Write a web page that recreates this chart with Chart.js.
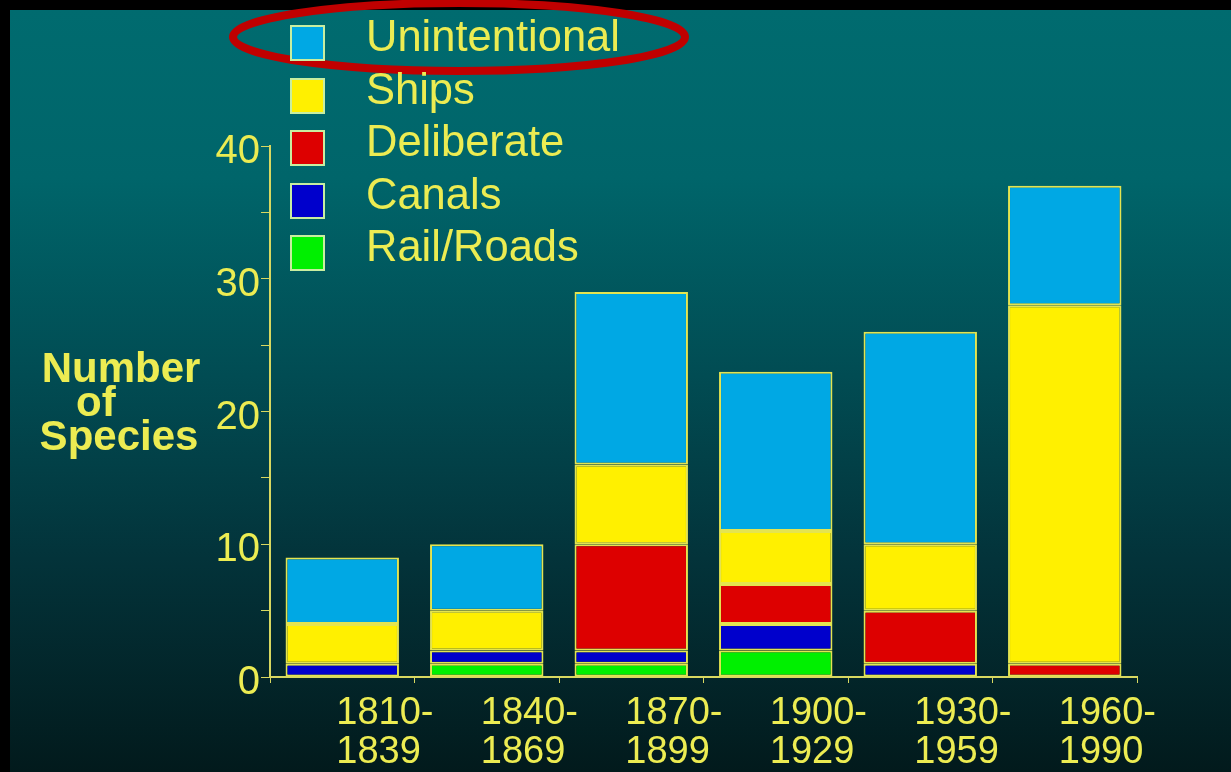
<!DOCTYPE html>
<html>
<head>
<meta charset="utf-8">
<script src="https://cdn.jsdelivr.net/npm/chart.js@4.4.1/dist/chart.umd.min.js"></script>
<style>
  html, body { margin: 0; padding: 0; background: #000; }
  #wrap { position: relative; width: 1231px; height: 772px; overflow: hidden; background: #000; }
  #bg {
    position: absolute; left: 10px; top: 10px; right: 0; bottom: 0;
    background: linear-gradient(to bottom, #006b6f 0%, #00656a 22%, #014c53 48%, #03333a 72%, #021a1c 100%);
  }
  #chart { position: absolute; left: 0; top: 0; }
  #legend { position: absolute; left: 290px; top: 25px; }
  .item { position: absolute; left: 0; height: 36px; width: 400px; }
  .box { position: absolute; left: 0; top: 0; width: 31px; height: 32px; border: 2px solid #c8eea0; }
  .txt { position: absolute; left: 76px; top: -13px; font: 43.5px "Liberation Sans", Arial, sans-serif; color: #ecec52; white-space: nowrap; }
</style>
</head>
<body>
<div id="wrap">
  <div id="bg"></div>
  <canvas id="chart" width="1231" height="772"></canvas>
  <div id="legend"></div>
</div>
<script>
const periods = [ ['1810-', '1839'], ['1840-', '1869'], ['1870-', '1899'], ['1900-', '1929'], ['1930-', '1959'], ['1960-', '1990'] ]
const railRoads = [ 0, 1, 1, 2, 0, 0 ]
const canals = [ 1, 1, 1, 2, 1, 0 ]
const deliberate = [ 0, 0, 8, 3, 4, 1 ]
const ships = [ 3, 3, 6, 4, 5, 27 ]
const unintentional = [ 5, 5, 13, 12, 16, 9 ]

const yTitle = [ 'Number', 'of', 'Species' ]
const yellow = '#ecec52'
const font = '"Liberation Sans", Arial, sans-serif'

// bottom of stack first
const series = [
  { label: 'Rail/Roads', data: railRoads, color: '#00f000' },
  { label: 'Canals', data: canals, color: '#0000cc' },
  { label: 'Deliberate', data: deliberate, color: '#dd0000' },
  { label: 'Ships', data: ships, color: '#fff000' },
  { label: 'Unintentional', data: unintentional, color: '#00a8e4' },
]

function buildLegend() {
  const legend = document.getElementById('legend')
  const items = series.slice().reverse()
  items.forEach((s, i) => {
    const row = document.createElement('div')
    row.className = 'item'
    row.style.top = (i * 52.5) + 'px'
    const box = document.createElement('div')
    box.className = 'box'
    box.style.background = s.color
    const txt = document.createElement('div')
    txt.className = 'txt'
    txt.textContent = s.label
    row.appendChild(box)
    row.appendChild(txt)
    legend.appendChild(row)
  })
}

const decorations = {
  id: 'decorations',
  afterDraw(chart) {
    const ctx = chart.ctx
    ctx.save()
    // y axis title, horizontal and stacked
    ctx.fillStyle = yellow
    ctx.font = 'bold 42px ' + font
    ctx.textBaseline = 'alphabetic'
    ctx.textAlign = 'center'
    ctx.fillText(yTitle[0], 121, 382)
    ctx.textAlign = 'left'
    ctx.fillText(yTitle[1], 76, 416)
    ctx.textAlign = 'center'
    ctx.fillText(yTitle[2], 119, 450)
    // red highlight ring around the first legend entry
    ctx.strokeStyle = '#c00000'
    ctx.lineWidth = 8
    ctx.beginPath()
    ctx.ellipse(459, 37, 226, 34, 0, 0, Math.PI * 2)
    ctx.stroke()
    ctx.restore()
  }
}

function speciesChart() {
  const ctx = document.getElementById('chart')

  const config = {
    type: 'bar',
    data: {
      labels: periods,
      datasets: series.map(s => ({
        label: s.label,
        data: s.data,
        backgroundColor: s.color,
        borderColor: '#e4e450',
        borderWidth: 2,
        borderSkipped: false,
        categoryPercentage: 0.785,
        barPercentage: 1.0,
      }))
    },
    options: {
      responsive: false,
      animation: false,
      layout: { padding: { top: 146, right: 94, left: 0, bottom: 0 } },
      plugins: {
        legend: { display: false },
        tooltip: { enabled: false },
      },
      scales: {
        x: {
          stacked: true,
          afterFit: (scale) => { scale.height = 95 },
          border: { display: true, color: '#d8d860', width: 2 },
          grid: { display: true, drawOnChartArea: false, drawTicks: true, tickLength: 6, color: '#d8d860' },
          ticks: {
            color: yellow,
            font: { family: font, size: 38, lineHeight: 1.03 },
            align: 'start',
            labelOffset: -6,
            padding: 11,
            maxRotation: 0,
            autoSkip: false,
          },
        },
        y: {
          stacked: true,
          min: 0,
          max: 40,
          afterFit: (scale) => { scale.width = 270 },
          border: { display: true, color: '#d8d860', width: 2 },
          grid: { display: true, drawOnChartArea: false, drawTicks: true, tickLength: 9, color: '#d8d860' },
          ticks: {
            stepSize: 5,
            color: yellow,
            padding: 1,
            labelOffset: 6,
            font: { family: font, size: 40 },
            callback: (v) => (v % 10 === 0 ? v : ''),
          },
        },
      },
    },
    plugins: [decorations],
  }

  new Chart(ctx, config)
}

buildLegend()
speciesChart()
</script>
</body>
</html>
